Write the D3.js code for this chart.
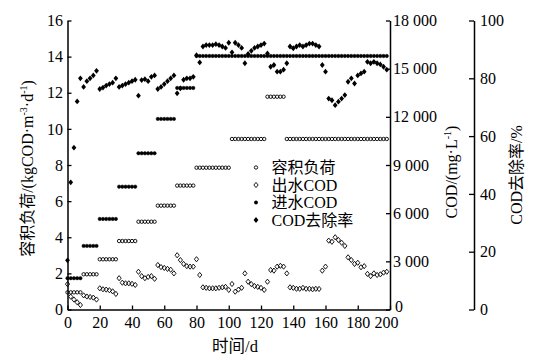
<!DOCTYPE html>
<html>
<head>
<meta charset="utf-8">
<script src="https://cdn.jsdelivr.net/npm/d3@7"></script>
<style>
body { margin: 0; background: #fff; }
svg text { font-family: "Liberation Serif", "Times New Roman", "Noto Sans CJK SC", serif; fill: #000; }
</style>
</head>
<body>
<div id="wrapper"></div>
<script>
// sampling days
const days = [0,2,4,6,8,10,12,14,16,18,20,22,24,26,28,30,32,34,36,38,40,42,44,46,48,50,52,54,56,58,
  60,62,64,66,68,70,72,74,76,78,80,82,84,86,88,90,92,94,96,98,100,102,104,106,108,110,112,114,116,118,
  120,122,124,126,128,130,132,134,136,138,140,142,144,146,148,150,152,154,156,158,160,162,164,166,168,170,172,174,176,178,
  180,182,184,186,188,190,192,194,196,198,200];

// 容积负荷 kgCOD/(m3·d)
const loadRate = [0.95,0.95,0.95,0.95,0.95,1.95,1.95,1.95,1.95,1.95,
  2.78,2.78,2.78,2.78,2.78,2.78,3.79,3.79,3.79,3.79,
  3.79,3.79,4.86,4.86,4.86,4.86,4.86,4.86,5.75,5.75,
  5.75,5.75,5.75,5.75,6.86,6.86,6.86,6.86,6.86,6.86,
  7.85,7.85,7.85,7.85,7.85,7.85,7.85,7.85,7.85,7.85,
  7.85,9.44,9.44,9.44,9.44,9.44,9.44,9.44,9.44,9.44,
  9.44,9.44,11.78,11.78,11.78,11.78,11.78,11.78,9.44,9.44,
  9.44,9.44,9.44,9.44,9.44,9.44,9.44,9.44,9.44,9.44,
  9.44,9.44,9.44,9.44,9.44,9.44,9.44,9.44,9.44,9.44,
  9.44,9.44,9.44,9.44,9.44,9.44,9.44,9.44,9.44,9.44,null];

// 出水COD mg/L
const effluentCod = [1580,800,620,450,280,880,810,780,740,620,
  1320,1260,1240,1200,1130,970,1950,1670,1630,1630,
  1600,1530,2350,2080,1950,2030,2080,1910,2770,2640,
  2590,2530,2480,2250,3380,3080,2840,2700,2670,2670,
  3130,2150,1380,1350,1320,1320,1320,1350,1380,1410,
  1220,1590,1110,1240,1350,2250,1730,1580,1460,1410,
  1350,1220,1730,2460,2420,2670,2720,2670,2250,1380,
  1350,1290,1290,1350,1290,1290,1260,1290,1280,2420,
  2670,4290,4220,4500,4330,4160,3960,3250,3080,2840,
  2910,2630,2700,2220,2080,2250,2150,2190,2300,2350,null];

// 进水COD mg/L
const influentCod = [1950,1950,1950,1950,1950,3960,3960,3960,3960,3960,
  5640,5640,5640,5640,5640,5640,7650,7650,7650,7650,
  7650,7650,9730,9730,9730,9730,9730,9730,11870,11870,
  11870,11870,11870,11870,13800,13800,13800,13800,13800,13800,
  15790,15790,15790,15790,15790,15790,15790,15790,15790,15790,
  15790,15790,15790,15790,15790,15790,15790,15790,15790,15790,
  15790,15790,15790,15790,15790,15790,15790,15790,15790,15790,
  15790,15790,15790,15790,15790,15790,15790,15790,15790,15790,
  15790,15790,15790,15790,15790,15790,15790,15790,15790,15790,
  15790,15790,15790,15790,15790,15790,15790,15790,15790,15790,null];

// COD去除率 %
const removal = [17,44,56,72,80,77,79,80,81,82.6,
  76.3,76.8,77.5,78,78.5,80,77,77.5,78,78.5,
  79,79.5,74,79.4,79.7,79,80.5,81,76.3,77,
  78,79,80,81,74.8,76.5,79.5,80,80,80.5,
  88,85.5,91,91.5,91.5,91.5,91.8,91.5,91,90.5,
  92.3,89,92.3,91.5,90.5,85.2,88.4,89.5,90.5,91,
  91.5,92,88.6,84,84.6,82.3,82.3,83,85.2,91,
  90.4,91,91.5,91,91.5,92,92,91.5,91,84.6,
  82.3,73,72.4,70.7,71.9,73,74.2,78.8,80,78.2,
  81,81.7,82.3,85.7,85.2,85.7,85.2,84.8,84,83,null];

const xTicks = [0,20,40,60,80,100,120,140,160,180,200];
const loadTicks = [0,2,4,6,8,10,12,14,16];
const codTicks = [0,3000,6000,9000,12000,15000,18000];
const codTickLabels = ["0","3 000","6 000","9 000","12 000","15 000","18 000"];
const rateTicks = [0,20,40,60,80,100];
const legendLabels = ["容积负荷","出水COD","进水COD","COD去除率"];

const width = 538, height = 361;
const plotLeft = 67.5, plotRight = 390, plotTop = 20.5, plotBottom = 309.5;
const rateAxisX = 474;

const svg = d3.select("#wrapper").append("svg")
  .attr("width", width).attr("height", height);

const x = d3.scaleLinear().domain([0, 200]).range([plotLeft, plotRight]);
const yLoad = d3.scaleLinear().domain([0, 16]).range([plotBottom, plotTop]);
const yCod = d3.scaleLinear().domain([0, 18000]).range([plotBottom, plotTop]);
const yRate = d3.scaleLinear().domain([0, 100]).range([plotBottom, plotTop]);

const pts = arr => days.map((d, i) => ({ d, v: arr[i] })).filter(p => p.v != null);
const diamond = (w, h) => `M0,${-h}L${w},0L0,${h}L${-w},0Z`;

// axes
function styleAxis(g) {
  g.select(".domain").attr("stroke", "#000").attr("stroke-width", 1.5);
  g.selectAll(".tick line").attr("stroke", "#000").attr("stroke-width", 1.3);
  g.selectAll(".tick text").attr("font-size", 16).attr("fill", "#000")
    .style("font-family", "'Liberation Serif', 'Times New Roman', serif");
}

const xAxisG = svg.append("g")
  .attr("transform", `translate(0,${plotBottom})`)
  .call(d3.axisBottom(x).tickValues(xTicks).tickSizeInner(-4).tickSizeOuter(0).tickPadding(7))
  .call(styleAxis);
// last label sits a little left, clear of the COD axis "0"
xAxisG.selectAll(".tick text").filter(d => d === 200).attr("dx", -4);

svg.append("g")
  .attr("transform", `translate(${plotLeft},0)`)
  .call(d3.axisLeft(yLoad).tickValues(loadTicks).tickSizeInner(-4).tickSizeOuter(0).tickPadding(4.5))
  .call(styleAxis);

const codAxisG = svg.append("g")
  .attr("transform", `translate(${plotRight},0)`)
  .call(d3.axisRight(yCod).tickValues(codTicks).tickFormat((d, i) => codTickLabels[i])
    .tickSizeInner(-4).tickSizeOuter(0).tickPadding(3))
  .call(styleAxis);
codAxisG.selectAll(".tick text").filter(d => d === 0).attr("y", -3).attr("x", 5);

svg.append("g")
  .attr("transform", `translate(${rateAxisX},0)`)
  .call(d3.axisRight(yRate).tickValues(rateTicks).tickSizeInner(-5).tickSizeOuter(0).tickPadding(6))
  .call(styleAxis);

// series
svg.append("g").selectAll("circle").data(pts(loadRate)).join("circle")
  .attr("cx", p => x(p.d)).attr("cy", p => yLoad(p.v)).attr("r", 1.7)
  .attr("fill", "none").attr("stroke", "#000").attr("stroke-width", 0.9);

svg.append("g").selectAll("path").data(pts(effluentCod)).join("path")
  .attr("d", diamond(2.1, 2.6))
  .attr("transform", p => `translate(${x(p.d)},${yCod(p.v)})`)
  .attr("fill", "none").attr("stroke", "#000").attr("stroke-width", 0.9);

svg.append("g").selectAll("circle").data(pts(influentCod)).join("circle")
  .attr("cx", p => x(p.d)).attr("cy", p => yCod(p.v)).attr("r", 1.7)
  .attr("fill", "#000").attr("stroke", "#000").attr("stroke-width", 0.5);

svg.append("g").selectAll("path").data(pts(removal)).join("path")
  .attr("d", diamond(2.4, 2.9))
  .attr("transform", p => `translate(${x(p.d)},${yRate(p.v)})`)
  .attr("fill", "#000");

// legend
const legend = svg.append("g");
const legY = [167.5, 185, 202.5, 220];
legendLabels.forEach((lab, i) => {
  const g = legend.append("g").attr("transform", `translate(256,${legY[i]})`);
  if (i === 0) g.append("circle").attr("r", 1.7).attr("fill", "none").attr("stroke", "#000").attr("stroke-width", 0.9);
  if (i === 1) g.append("path").attr("d", diamond(2.1, 2.6)).attr("fill", "none").attr("stroke", "#000").attr("stroke-width", 0.9);
  if (i === 2) g.append("circle").attr("r", 1.9).attr("fill", "#000");
  if (i === 3) g.append("path").attr("d", diamond(2.4, 2.9)).attr("fill", "#000");
  g.append("text").attr("x", 15.5).attr("y", 5.5).attr("font-size", 16).text(lab);
});

// axis titles
const tLeft = svg.append("text")
  .attr("transform", "translate(33,168.5) rotate(-90)")
  .attr("text-anchor", "middle").attr("font-size", 16);
tLeft.append("tspan").text("容积负荷/(kgCOD·m");
tLeft.append("tspan").attr("dy", -6).attr("font-size", 10).text("-3");
tLeft.append("tspan").attr("dy", 6).text("·d");
tLeft.append("tspan").attr("dy", -6).attr("font-size", 10).text("-1");
tLeft.append("tspan").attr("dy", 6).text(")");

const tCod = svg.append("text")
  .attr("transform", "translate(457,172) rotate(-90)")
  .attr("text-anchor", "middle").attr("font-size", 16);
tCod.append("tspan").text("COD/(mg·L");
tCod.append("tspan").attr("dy", -6).attr("font-size", 10).text("-1");
tCod.append("tspan").attr("dy", 6).text(")");

svg.append("text")
  .attr("transform", "translate(522,175) rotate(-90)")
  .attr("text-anchor", "middle").attr("font-size", 16)
  .text("COD去除率/%");

svg.append("text")
  .attr("x", 235).attr("y", 352)
  .attr("text-anchor", "middle").attr("font-size", 16.5)
  .text("时间/d");
</script>
</body>
</html>
